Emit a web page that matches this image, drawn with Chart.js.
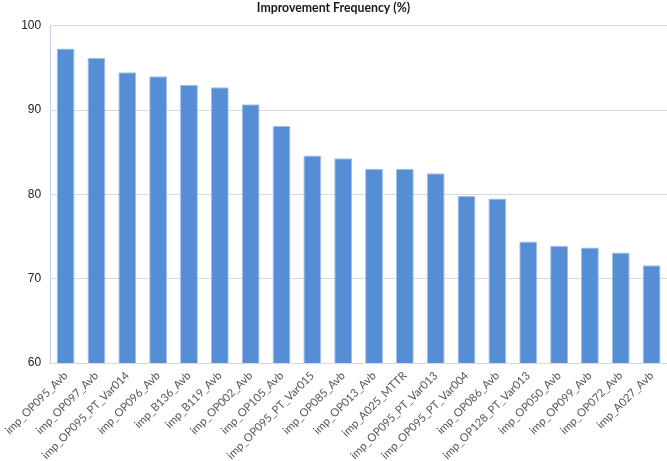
<!DOCTYPE html>
<html>
<head>
<meta charset="utf-8">
<script src="https://cdn.jsdelivr.net/npm/chart.js@4"></script>
<style>
  html, body { margin: 0; padding: 0; background: #ffffff; }
  #wrap { width: 667px; height: 461px; }
</style>
</head>
<body>
<div id="wrap"><canvas id="graficoMelhoria"></canvas></div>
<script>
// variáveis e frequência de melhoria (%)
const variaveis = [
    'imp_OP095_Avb', 'imp_OP097_Avb', 'imp_OP095_PT_Var014', 'imp_OP096_Avb', 'imp_B136_Avb',
    'imp_B119_Avb', 'imp_OP002_Avb', 'imp_OP105_Avb', 'imp_OP095_PT_Var015', 'imp_OP085_Avb',
    'imp_OP013_Avb', 'imp_A025_MTTR', 'imp_OP095_PT_Var013', 'imp_OP095_PT_Var004', 'imp_OP086_Avb',
    'imp_OP128_PT_Var013', 'imp_OP050_Avb', 'imp_OP099_Avb', 'imp_OP072_Avb', 'imp_A027_Avb'
];
const frequencia = [97.3, 96.2, 94.5, 94.0, 93.0, 92.7, 90.7, 88.1, 84.6, 84.3,
                    83.05, 83.05, 82.5, 79.8, 79.5, 74.4, 73.9, 73.7, 73.1, 71.6];
const ticksY = [60, 70, 80, 90, 100];

const dados = {
    labels: variaveis,
    datasets: [{
        label: 'Improvement Frequency (%)',
        backgroundColor: '#558ed5',
        borderColor: '#a3c0ea',
        borderWidth: 1,
        barPercentage: 0.58,
        categoryPercentage: 1.0,
        data: frequencia
    }]
};

const ctx = document.getElementById('graficoMelhoria').getContext('2d');

new Chart(ctx, {
    type: 'bar',
    data: dados,
    options: {
        responsive: true,
        maintainAspectRatio: false,
        animation: false,
        plugins: {
            legend: { display: false },
            tooltip: { enabled: false },
            title: {
                display: true,
                text: 'Improvement Frequency (%)',
                color: '#1a1a1a',
                font: { family: 'Lato', size: 12.3, weight: 'bold' },
                padding: { top: 1, bottom: 10 }
            }
        },
        scales: {
            x: {
                grid: { display: false, drawTicks: false },
                border: { display: true, color: '#d9d9d9', width: 1 },
                ticks: {
                    autoSkip: false,
                    minRotation: 45,
                    maxRotation: 45,
                    padding: 6,
                    color: '#555555',
                    font: { family: 'Lato', size: 11.2 }
                },
                afterFit: function(scale) { scale.height = 98; }
            },
            y: {
                min: 60,
                max: 100,
                afterBuildTicks: function(scale) {
                    scale.ticks = ticksY.map(v => ({ value: v }));
                },
                grid: { color: '#d9d9d9', lineWidth: 1, drawTicks: false },
                border: { display: true, color: '#c5d3e8', width: 1 },
                ticks: {
                    padding: 9,
                    color: '#222222',
                    font: { family: 'Liberation Sans', size: 12 }
                },
                afterFit: function(scale) { scale.width = 45; }
            }
        }
    }
});
</script>
</body>
</html>
